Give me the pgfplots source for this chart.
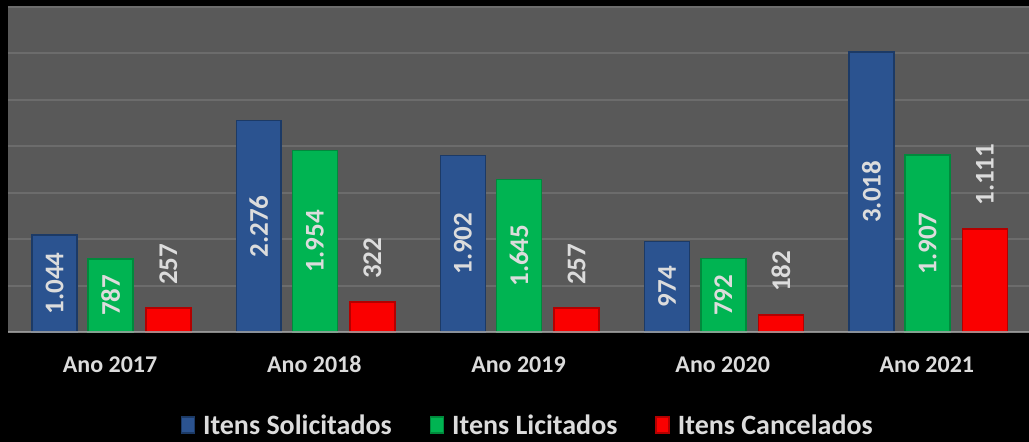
\documentclass[border=0pt]{standalone}
\usepackage{pgfplots}
\pgfplotsset{compat=1.18}
\usepackage{pgfplotstable}
\usepackage{fontspec}
\setmainfont{Carlito}
\definecolor{bg}{HTML}{595959}
\definecolor{gridc}{HTML}{6C6C6C}
\definecolor{txt}{HTML}{DCDCDC}
\definecolor{axc}{HTML}{A6A6A6}
\definecolor{blueB}{HTML}{2B5390}
\definecolor{blueD}{HTML}{1C3A66}
\definecolor{greenB}{HTML}{00B452}
\definecolor{greenD}{HTML}{008A3C}
\definecolor{redB}{HTML}{FA0000}
\definecolor{redD}{HTML}{B40000}

\pgfplotstableread{
x sol lic can solL licL canL
0 1044 787 257 1.044 787 257
1 2276 1954 322 2.276 1.954 322
2 1902 1645 257 1.902 1.645 257
3 974 792 182 974 792 182
4 3018 1907 1111 3.018 1.907 1.111
}\data

\begin{document}
\begin{tikzpicture}[font=\bfseries]
\path[use as bounding box, fill=black] (-8pt,-110pt) rectangle (1021pt,332pt);
\begin{axis}[
  at={(0pt,0pt)}, anchor=south west,
  scale only axis, width=1021pt, height=325pt,
  xmin=-0.5, xmax=4.5, ymin=0, ymax=3500,
  axis background/.style={fill=bg},
  axis line style={draw=none},
  ytick={500,1000,...,3500}, yticklabels={},
  ymajorgrids, grid style={gridc, line width=2pt},
  major tick length=0pt,
  xtick={0,1,2,3,4},
  xticklabels={Ano 2017,Ano 2018,Ano 2019,Ano 2020,Ano 2021},
  xticklabel style={text=txt, font=\fontsize{24}{28}\selectfont\bfseries,
    text height=16pt, text depth=5pt, yshift=-21pt},
  bar width=0.22,
  legend style={at={(0.509,-0.286)}, anchor=center, legend columns=3,
    draw=none, fill=none, text=txt,
    font=\fontsize{28}{32}\selectfont\bfseries,
    /tikz/every odd column/.append style={column sep=6pt},
    /tikz/every even column/.append style={column sep=36pt}},
  legend image code/.code={\path[#1] (0pt,-8pt) rectangle (13pt,8pt);},
  clip=false,
]
\addplot[ybar, bar shift=-0.272, draw=blueD, line width=1.5pt, fill=blueB]
  table[x=x, y=sol]{\data};
\addlegendentry{Itens Solicitados}
\addplot[ybar, bar shift=0.003, draw=greenD, line width=1.5pt, fill=greenB]
  table[x=x, y=lic]{\data};
\addlegendentry{Itens Licitados}
\addplot[ybar, bar shift=0.285, draw=redD, line width=1.5pt, fill=redB]
  table[x=x, y=can]{\data};
\addlegendentry{Itens Cancelados}

\addplot[forget plot, draw=none, mark=none, nodes near coords, point meta=explicit symbolic,
  every node near coord/.style={rotate=90, anchor=center, text=txt, font=\fontsize{27}{31}\selectfont\bfseries}]
  table[x expr=\thisrow{x}-0.272, y expr=\thisrow{sol}/2, meta=solL]{\data};
\addplot[forget plot, draw=none, mark=none, nodes near coords, point meta=explicit symbolic,
  every node near coord/.style={rotate=90, anchor=center, text=txt, font=\fontsize{27}{31}\selectfont\bfseries}]
  table[x expr=\thisrow{x}+0.003, y expr=\thisrow{lic}/2, meta=licL]{\data};
\addplot[forget plot, draw=none, mark=none, nodes near coords, point meta=explicit symbolic,
  every node near coord/.style={rotate=90, anchor=west, inner xsep=23pt, text=txt, font=\fontsize{27}{31}\selectfont\bfseries}]
  table[x expr=\thisrow{x}+0.285, y=can, meta=canL]{\data};

\draw[axc, line width=2pt, opacity=0.8] (rel axis cs:0,0) -- (rel axis cs:1,0);
\end{axis}
\end{tikzpicture}
\end{document}
